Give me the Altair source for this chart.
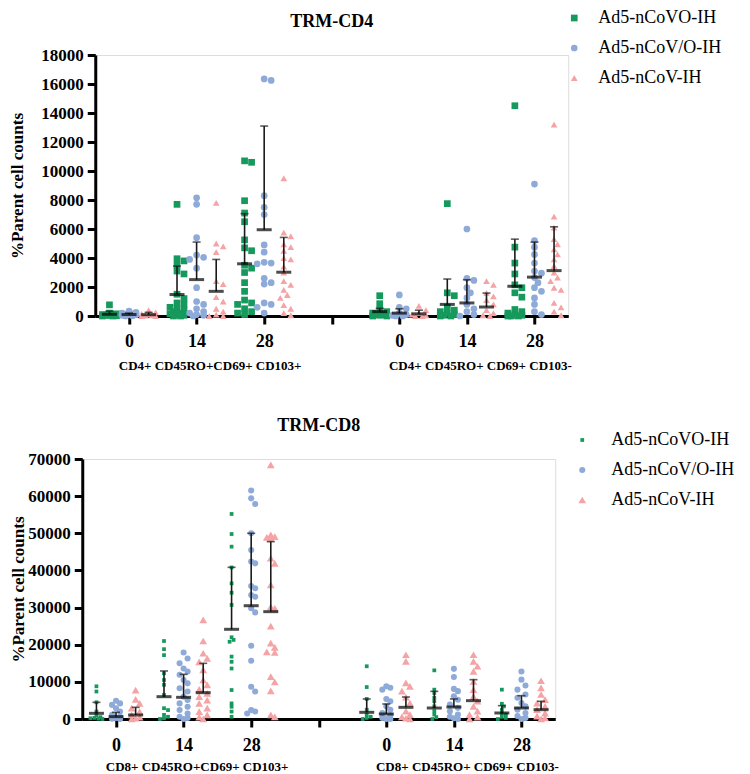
import math
import altair as alt
import pandas as pd

GROUPS = ["Ad5-nCoVO-IH", "Ad5-nCoV/O-IH", "Ad5-nCoV-IH"]
COLORS = ["#16995c", "#8eaad9", "#f5a3a5"]
SHAPES = ["square", "circle", "triangle-up"]
DAY_LABELS = ["0", "14", "28"]
CD4_CATEGORIES = ["CD4+ CD45RO+CD69+ CD103+", "CD4+ CD45RO+ CD69+ CD103-"]
CD8_CATEGORIES = ["CD8+ CD45RO+CD69+ CD103+", "CD8+ CD45RO+ CD69+ CD103-"]

# ---------------- TRM-CD4 : CD103+  (lists per day 0, 14, 28)
CD4A_GREEN = [
    [770, 200, 150, 100, 100, 60, 40, 20, 0, 0],
    [7700, 3950, 3800, 3500, 3100, 2900, 1500, 1200, 900, 800, 600, 500, 400, 300, 200, 150, 100, 50, 0, 0],
    [10700, 10600, 7950, 7100, 6500, 5250, 4700, 4500, 3500, 3300, 3000, 2300, 1700, 1100, 900, 800, 500, 300, 200, 100],
]
CD4A_BLUE = [
    [330, 250, 200, 150, 120, 100, 80, 50, 20, 0],
    [8150, 7700, 5400, 4200, 4050, 3900, 3300, 1950, 1000, 800, 500, 300, 200, 100, 50, 0],
    [16350, 16250, 8300, 7500, 7000, 4900, 4400, 3700, 3650, 3600, 2600, 2300, 2200, 900, 800, 600, 200],
]
CD4A_PINK = [
    [400, 250, 150, 100, 50, 30, 0, 0],
    [7800, 5000, 4800, 4400, 2400, 2200, 1300, 1000, 500, 300, 100, 0, 0],
    [9500, 5750, 5500, 4950, 4750, 4500, 4000, 3900, 3400, 3000, 2400, 2150, 1800, 1450, 1250, 750, 500, 200, 50],
]
CD4A_MEAN = [[120, 100, 90], [1480, 2510, 1700], [3600, 5950, 3020]]
CD4A_SDTOP = [[330, 200, 250], [3440, 5100, 3900], [7060, 13100, 5420]]

# ---------------- TRM-CD4 : CD103-
CD4B_GREEN = [
    [1400, 850, 400, 300, 200, 100, 100, 50, 0, 0],
    [7750, 1600, 1400, 600, 400, 300, 200, 100, 50, 0, 0],
    [14500, 4750, 3650, 2900, 2150, 1950, 1600, 1300, 450, 300, 200, 100, 50, 0, 0, 0],
]
CD4B_BLUE = [
    [1450, 600, 500, 200, 100, 50, 0, 0],
    [6000, 2600, 2450, 1950, 1600, 1250, 800, 500, 300, 100, 0],
    [9100, 5200, 4750, 4250, 3650, 3100, 2950, 2650, 2300, 1950, 1700, 1250, 800, 300, 100],
]
CD4B_PINK = [
    [700, 400, 200, 100, 50, 0, 0],
    [2400, 2150, 1600, 1350, 1100, 800, 400, 200, 50, 0],
    [13200, 6850, 6100, 5300, 4950, 4600, 4250, 3900, 3450, 3000, 2650, 2400, 1950, 1800, 900, 600, 300, 50],
]
CD4B_MEAN = [[300, 200, 150], [800, 900, 620], [2050, 2680, 3130]]
CD4B_SDTOP = [[530, 500, 400], [2550, 2500, 1580], [5300, 5100, 6150]]

# ---------------- TRM-CD8 : CD103+
CD8A_GREEN = [
    [8800, 7400, 4500, 2000, 1000, 500, 300, 200, 100, 0],
    [21000, 18800, 17200, 12300, 10500, 9200, 6500, 2900, 2400, 1100, 600, 200, 0],
    [55200, 49800, 46400, 40800, 36500, 34000, 30700, 22000, 21300, 20800, 16800, 15400, 13600, 7800, 4200, 3300, 2000, 600],
]
CD8A_BLUE = [
    [4900, 4200, 3800, 2900, 2000, 1100, 600, 300, 100, 0],
    [17900, 16300, 15000, 13600, 12800, 11900, 10500, 9600, 8300, 7400, 6000, 5100, 4200, 3300, 2400, 1500, 600, 300, 0],
    [61500, 59400, 57900, 50000, 45500, 42400, 41900, 35800, 35200, 33400, 32900, 29800, 28700, 19700, 15700, 8700, 7400, 2400, 2000, 1500],
]
CD8A_PINK = [
    [7800, 5300, 4200, 2900, 2000, 1100, 500, 200, 0],
    [26700, 21000, 17700, 16300, 15400, 13200, 10500, 9200, 8000, 6900, 6000, 5100, 4200, 2900, 2000, 1100, 500, 0],
    [68400, 49600, 49100, 48900, 48600, 43300, 41900, 36100, 30200, 29800, 25000, 20400, 19300, 18100, 17900, 11400, 10000, 7600, 1100, 600],
]
CD8A_MEAN = [[1530, 630, 1080], [6010, 5830, 7090], [24150, 30500, 28900]]
CD8A_SDTOP = [[4490, 1800, 3140], [12930, 12030, 14990], [40840, 50000, 47750]]

# ---------------- TRM-CD8 : CD103-
CD8B_GREEN = [
    [14200, 8600, 5400, 2500, 1200, 600, 300, 0],
    [13100, 7900, 7000, 5700, 4800, 3400, 2100, 1200, 500, 0],
    [7900, 4100, 3400, 2500, 1600, 1200, 600, 300, 0],
]
CD8B_BLUE = [
    [8800, 8400, 7900, 5400, 4800, 3400, 2500, 1600, 900, 300, 0, 0],
    [13500, 11300, 8100, 7500, 6100, 5200, 3900, 3000, 2100, 1200, 600, 200, 0],
    [12800, 10600, 9000, 7900, 6600, 5700, 4300, 3400, 2500, 1600, 800, 300, 0],
]
CD8B_PINK = [
    [17300, 15500, 9700, 8800, 7500, 5900, 4300, 2100, 1200, 600, 200, 0],
    [17300, 15500, 14200, 12800, 10100, 7900, 6100, 4800, 3400, 2100, 1200, 500, 0],
    [10300, 8400, 6600, 5200, 4300, 3400, 2500, 1600, 800, 300, 0],
]
CD8B_MEAN = [[1800, 1350, 3140], [2960, 3230, 4940], [1620, 2960, 2510]]
CD8B_SDTOP = [[5390, 4040, 5920], [7450, 5390, 10590], [3590, 6280, 4760]]

FONT = "Liberation Serif"
W = 473
GROUP_OFF = 0.29


def swarm(values, px_per_val, diam, maxoff):
    """Deterministic beeswarm offsets (pixels) so that dots do not pile up."""
    placed, offs = [], []
    step = diam * 0.5
    cands = [0.0]
    k = 1
    while k * step <= maxoff:
        cands += [k * step, -k * step]
        k += 1
    for v in values:
        y = v * px_per_val
        best, bestc, bestd = None, 0.0, -1
        for c in cands:
            dmin = min([math.hypot(c - px, y - py) for px, py in placed], default=1e9)
            if dmin >= diam * 0.8:
                best = c
                break
            if dmin > bestd:
                bestd, bestc = dmin, c
        if best is None:
            best = bestc
        placed.append((best, y))
        offs.append(best)
    return offs


def panel(title, cats, cat_data, ymax, ystep, height, sizes, diams,
          leg_x, leg_y, leg_sym, leg_off, label_pad, cat_dy, title_pad):
    px_x = W / 7.0
    px_y = height / ymax
    pts, stats = [], []
    for c, (series, means, tops) in enumerate(cat_data):
        for d in range(3):
            base = c * 4 + d + 1
            for g in range(3):
                center = base + (g - 1) * GROUP_OFF
                vals = series[g][d]
                offs = swarm(vals, px_y, diams[g], 7)
                for v, o in zip(vals, offs):
                    pts.append({"x": center + o / px_x, "value": v, "group": GROUPS[g]})
                stats.append({"center": center, "mean": means[d][g],
                              "top": tops[d][g], "group": GROUPS[g]})
    pts = pd.DataFrame(pts)
    stats = pd.DataFrame(stats)

    label_expr = ("datum.value==1||datum.value==5?'%s':"
                  "datum.value==2||datum.value==6?'%s':"
                  "datum.value==3||datum.value==7?'%s':''") % tuple(DAY_LABELS)
    xaxis = alt.Axis(values=[1, 2, 3, 4, 5, 6, 7], labelExpr=label_expr, title=None,
                     grid=False, domainColor="black", domainWidth=3, tickColor="black",
                     tickWidth=3, tickSize=8, labelFont=FONT, labelFontSize=18,
                     labelFontWeight="bold", labelColor="black", labelPadding=label_pad,
                     labelAngle=0)
    yaxis = alt.Axis(values=list(range(0, ymax + 1, ystep)), format="d",
                     title="%Parent cell counts", grid=False, domainColor="black",
                     domainWidth=3, tickColor="black", tickWidth=3, tickSize=8,
                     labelFont=FONT, labelFontSize=17, labelFontWeight="bold",
                     labelColor="black", labelPadding=4, titleFont=FONT,
                     titleFontSize=17, titleFontWeight="bold", titleColor="black",
                     titlePadding=title_pad)
    xs = alt.Scale(domain=[0.5, 7.5], nice=False, zero=False)
    ys = alt.Scale(domain=[0, ymax], nice=False)
    legend = alt.Legend(orient="none", legendX=leg_x, legendY=leg_y, title=None,
                        labelFont=FONT, labelFontSize=18, labelColor="black",
                        symbolSize=leg_sym, rowPadding=12, labelOffset=leg_off,
                        padding=0, labelLimit=300, symbolStrokeWidth=0)

    points = alt.Chart(pts).mark_point(filled=True, opacity=1).encode(
        x=alt.X("x:Q", scale=xs, axis=xaxis),
        y=alt.Y("value:Q", scale=ys, axis=yaxis),
        color=alt.Color("group:N", scale=alt.Scale(domain=GROUPS, range=COLORS), legend=legend),
        shape=alt.Shape("group:N", scale=alt.Scale(domain=GROUPS, range=SHAPES), legend=legend),
        size=alt.Size("group:N", scale=alt.Scale(domain=GROUPS, range=sizes), legend=None),
    )
    sd = alt.Chart(stats).mark_rule(color="#1a1a1a", strokeWidth=1.6).encode(
        x=alt.X("center:Q", scale=xs, axis=xaxis),
        y=alt.Y("mean:Q", scale=ys, axis=yaxis),
        y2="top:Q",
    )
    cap = alt.Chart(stats).mark_tick(orient="horizontal", size=8, thickness=1.6,
                                     color="#1a1a1a").encode(
        x=alt.X("center:Q", scale=xs, axis=xaxis),
        y=alt.Y("top:Q", scale=ys, axis=yaxis),
    )
    mean = alt.Chart(stats).mark_tick(orient="horizontal", size=15, thickness=3,
                                      color="black").encode(
        x=alt.X("center:Q", scale=xs, axis=xaxis),
        y=alt.Y("mean:Q", scale=ys, axis=yaxis),
    )
    cat_df = pd.DataFrame({"pos": [2.2, 6.2], "label": cats})
    catlab = alt.Chart(cat_df).mark_text(font=FONT, fontSize=13, fontWeight="bold",
                                         color="black", baseline="middle").encode(
        x=alt.X("pos:Q", scale=xs, axis=xaxis),
        y=alt.value(height + cat_dy),
        text="label:N",
    )
    ttl = alt.Chart(pd.DataFrame({"t": [title]})).mark_text(
        font=FONT, fontSize=18, fontWeight="bold", color="black", baseline="middle"
    ).encode(x=alt.value(W / 2), y=alt.value(-33), text="t:N")

    return alt.layer(points, sd, cap, mean, catlab, ttl).properties(width=W, height=height)


top = panel("TRM-CD4", CD4_CATEGORIES,
            [((CD4A_GREEN, CD4A_BLUE, CD4A_PINK), CD4A_MEAN, CD4A_SDTOP),
             ((CD4B_GREEN, CD4B_BLUE, CD4B_PINK), CD4B_MEAN, CD4B_SDTOP)],
            18000, 2000, 261, [45, 45, 40], [7, 7, 7],
            470, -46, 30, 15, 8, 50, 14)
bottom = panel("TRM-CD8", CD8_CATEGORIES,
               [((CD8A_GREEN, CD8A_BLUE, CD8A_PINK), CD8A_MEAN, CD8A_SDTOP),
                ((CD8B_GREEN, CD8B_BLUE, CD8B_PINK), CD8B_MEAN, CD8B_SDTOP)],
               70000, 10000, 260, [14, 60, 50], [4, 8, 8],
               491, -28, 40, 20, 9, 48, 0)

chart = alt.vconcat(top, bottom, spacing=42, center=True).resolve_scale(
    color="independent", shape="independent", size="independent",
    x="independent", y="independent"
).properties(padding={"left": 0, "top": 0, "right": 0, "bottom": 0}).configure_view(
    strokeWidth=0, stroke="transparent"
).configure(background="white")

chart.save("out.html", embed_options={"renderer": "svg", "actions": False})
